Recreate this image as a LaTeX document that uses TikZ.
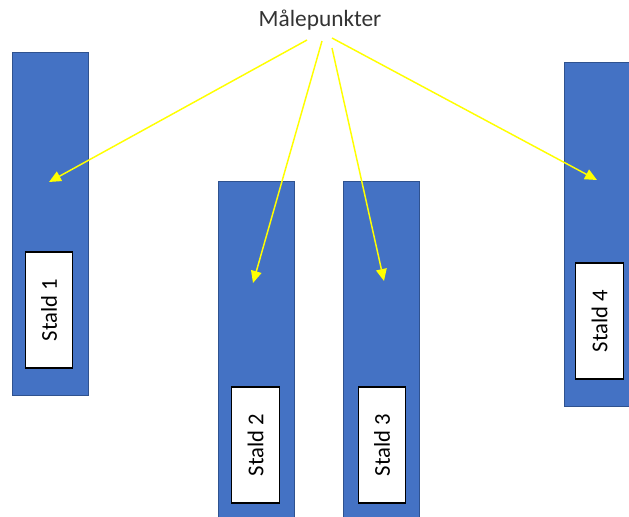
\documentclass[tikz,border=0pt]{standalone}
\usepackage{fontspec}
\setmainfont{Carlito}
\usetikzlibrary{arrows.meta}
\definecolor{barnblue}{HTML}{4472C4}
\definecolor{barnedge}{HTML}{2F528F}
\definecolor{arrowyellow}{HTML}{FFFF00}
\begin{document}
\begin{tikzpicture}[x=0.75pt,y=-0.75pt,
  barn/.style={draw=barnedge, fill=barnblue, line width=0.6pt, minimum width=57pt, inner sep=0pt, outer sep=0pt},
  tag/.style={draw=black, fill=white, line width=0.9pt, rotate=90, minimum width=87pt, minimum height=35.5pt, inner sep=0pt, font=\fontsize{17}{20}\selectfont},
  ptr/.style={draw=arrowyellow, line width=1.1pt, -{Triangle[length=9pt,width=8pt]}}
]
\useasboundingbox (0,0) rectangle (629,517);
\node[barn, minimum height=257.25pt] (s1) at (50,223.5) {};
\node[barn, minimum height=258pt] (s2) at (256,353) {};
\node[barn, minimum height=258pt] (s3) at (381,353) {};
\node[barn, minimum height=258pt] (s4) at (602,234) {};
\node[tag] (l1) at (49,310) {Stald 1};
\node[tag] (l2) at (255.5,445) {Stald 2};
\node[tag] (l3) at (382,445) {Stald 3};
\node[tag] (l4) at (599.5,321) {Stald 4};
\node[anchor=base, inner sep=0pt, font=\fontsize{17.5}{21}\selectfont, text=black!80] (title) at (320,27) {Målepunkter};
\coordinate (a1) at (307,40);
\coordinate (a2) at (322,41);
\coordinate (a3) at (332,48);
\coordinate (a4) at (332,38);
\coordinate (t1) at (49,182);
\coordinate (t2) at (253,283);
\coordinate (t3) at (384,281);
\coordinate (t4) at (597,180);
\draw[ptr] (a1) -- (t1);
\draw[ptr] (a2) -- (t2);
\draw[ptr] (a3) -- (t3);
\draw[ptr] (a4) -- (t4);
\end{tikzpicture}
\end{document}
